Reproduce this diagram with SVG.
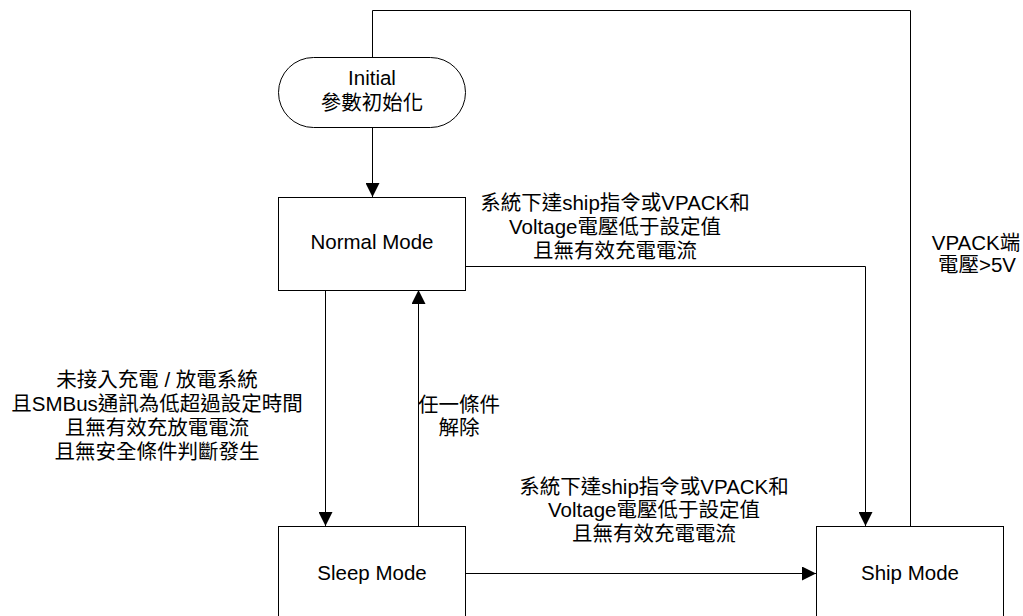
<svg xmlns="http://www.w3.org/2000/svg" width="1023" height="616" viewBox="0 0 1023 616">
<defs>
<marker id="arr" viewBox="0 0 14 14" refX="14" refY="7" markerWidth="14" markerHeight="14" markerUnits="userSpaceOnUse" orient="auto">
<path d="M0,0 L14,7 L0,14 Z" fill="#000"/>
</marker>
<style>
.n{fill:#fff;stroke:#000;stroke-width:1}
.c{fill:none;stroke:#000;stroke-width:1}
text{font-family:"Liberation Sans","Noto Sans CJK TC",sans-serif;font-size:20.5px;fill:#000;text-anchor:middle}
</style>
</defs>
<rect width="1023" height="616" fill="#fff"/>
<g id="connectors">
<path class="c" d="M910.5,526 V10.5 H372.5 V57"/>
<path class="c" d="M372.5,127 V197" marker-end="url(#arr)"/>
<path class="c" d="M466,266.5 H865.5 V526" marker-end="url(#arr)"/>
<path class="c" d="M325.5,290 V526" marker-end="url(#arr)"/>
<path class="c" d="M418.5,526 V290" marker-end="url(#arr)"/>
<path class="c" d="M465,573.5 H816" marker-end="url(#arr)"/>
<text x="615" y="210">系統下達ship指令或VPACK和</text>
<text x="615" y="234">Voltage電壓低于設定值</text>
<text x="615" y="258">且無有效充電電流</text>
<text x="157" y="387">未接入充電 / 放電系統</text>
<text x="157" y="411">且SMBus通訊為低超過設定時間</text>
<text x="157" y="435">且無有效充放電電流</text>
<text x="157" y="459">且無安全條件判斷發生</text>
<text x="459" y="412">任一條件</text>
<text x="459" y="435">解除</text>
<text x="654" y="494">系統下達ship指令或VPACK和</text>
<text x="654" y="517">Voltage電壓低于設定值</text>
<text x="654" y="541">且無有效充電電流</text>
<text x="976" y="250">VPACK端</text>
<text x="977" y="272">電壓&gt;5V</text>
</g>
<g id="initial">
<rect class="n" x="278.5" y="57.5" width="187" height="70" rx="35" ry="35"/>
<text x="372" y="85">Initial</text>
<text x="372" y="110">參數初始化</text>
</g>
<g id="normal">
<rect class="n" x="278.5" y="197.5" width="187" height="93"/>
<text x="372" y="249">Normal Mode</text>
</g>
<g id="sleep">
<rect class="n" x="278.5" y="526.5" width="187" height="100"/>
<text x="372" y="580">Sleep Mode</text>
</g>
<g id="ship">
<rect class="n" x="816.5" y="526.5" width="187" height="100"/>
<text x="910" y="580">Ship Mode</text>
</g>
</svg>
